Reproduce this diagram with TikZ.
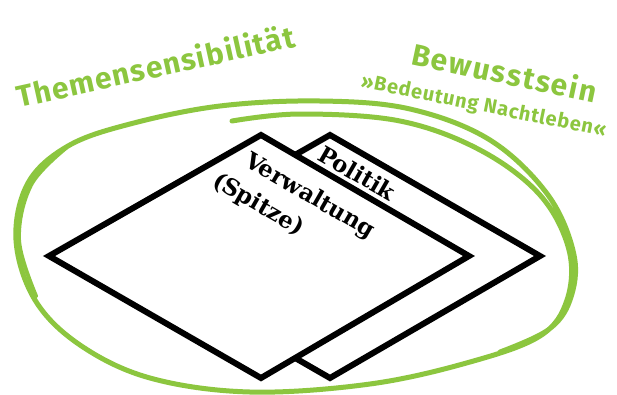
\documentclass[tikz,border=0pt]{standalone}
\usepackage{fontspec}
\usetikzlibrary{calc}
\newfontfamily\handA[LetterSpace=4]{Fira Sans}
\newfontfamily\handB[LetterSpace=5.5]{Fira Sans}
\newfontfamily\handC[LetterSpace=4]{Fira Sans}
\newfontfamily\labelfont{DejaVu Serif}
\definecolor{lgreen}{RGB}{140,198,63}
\begin{document}
\begin{tikzpicture}[x=1pt,y=-1pt,
  loopline/.style={draw=lgreen, line width=5pt, line cap=round, line join=round},
  sheet/.style={draw=black, fill=white, line width=6pt, line join=miter},
  hand/.style={text=lgreen, inner sep=0pt, anchor=base west},
  lbl/.style={font=\labelfont\bfseries\fontsize{23pt}{27pt}\selectfont, inner sep=0pt, anchor=base west, rotate=-30}]
\fill[white] (0,0) rectangle (617,394);
\useasboundingbox (0,0) rectangle (617,394);
% green hand-drawn loop
\draw[loopline] plot[smooth, tension=0.6] coordinates {
 (232,121) (300,114) (400,121) (480,150) (540,195) (569,250) (567,300)
 (540,336) (470,362) (370,384) (250,392) (150,378) (80,345) (35,300)
 (16,240) (28,183) (68,146) (130,124) (220,106) (320,101) (410,109)
 (490,140) (548,195) (574,255) (570,300) (548,330) (500,352)};
\draw[loopline, line width=4pt] plot[smooth, tension=0.6] coordinates {
 (66,148) (31,185) (19,240) (36,296)};
% sheets
\coordinate (bt) at (330,135); \coordinate (br) at (540,256);
\coordinate (bb) at (330,378); \coordinate (bl) at (118,256);
\coordinate (ft) at (261,135); \coordinate (fr) at (469,256);
\coordinate (fb) at (261,378); \coordinate (fl) at (49,256);
\draw[sheet] (bt) -- (br) -- (bb) -- (bl) -- cycle;
\draw[sheet] (ft) -- (fr) -- (fb) -- (fl) -- cycle;
% labels
\node[lbl] (pol) at (316,159) {Politik};
\node[lbl] (ver) at (243,165) {Verwaltung};
\node[lbl] (spi) at (211,185) {(Spitze)};
% green texts
\node[hand, rotate=12.5, font=\handA\bfseries\fontsize{30pt}{32pt}\selectfont] (them) at (19,108) {Themensensibilität};
\node[hand, rotate=-12, font=\handB\bfseries\fontsize{30pt}{32pt}\selectfont] (bew) at (410,64) {Bewusstsein};
\node[hand, rotate=-11.5, font=\handC\bfseries\fontsize{20pt}{22pt}\selectfont] (bed) at (360,87) {»Bedeutung Nachtleben«};
\end{tikzpicture}
\end{document}
